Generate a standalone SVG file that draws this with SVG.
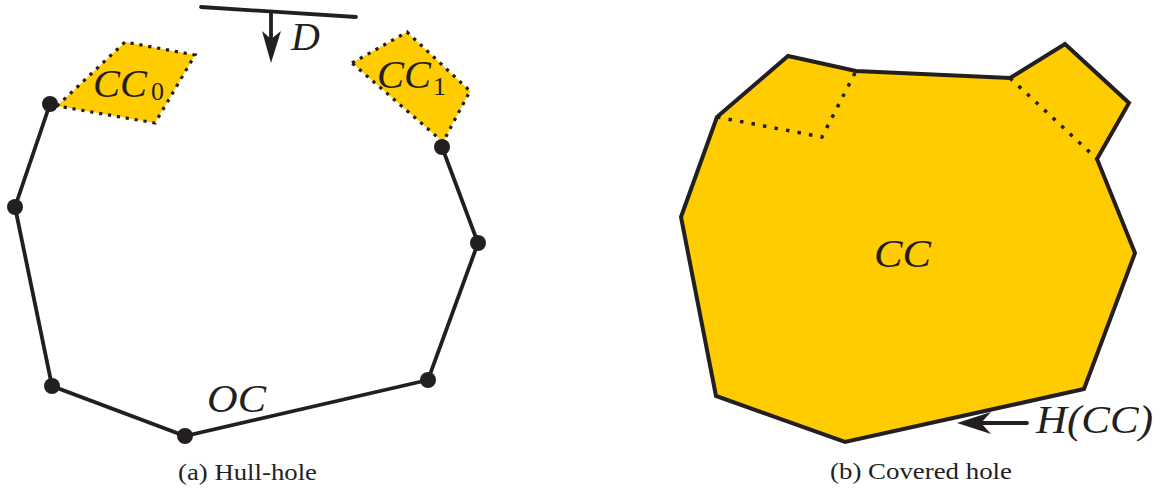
<svg xmlns="http://www.w3.org/2000/svg" width="1167" height="493" viewBox="0 0 1167 493">
<style>
.edge{fill:none;stroke:#231f20;stroke-width:3.8;stroke-linejoin:miter;stroke-linecap:round}
.cc{fill:#ffcc00;stroke:#231f20;stroke-width:3.2;stroke-dasharray:3.2 5.8;stroke-linecap:butt}
.dot{stroke:#231f20;stroke-width:3.5;stroke-dasharray:3.5 8.2;fill:none}
.v{fill:#231f20}
.m{font-family:'Liberation Serif','Times New Roman',Times,serif;font-style:italic;font-size:40px;fill:#231f20}
.sub{font-family:'Liberation Serif','Times New Roman',Times,serif;font-size:26px;fill:#231f20}
.cap{font-family:'Liberation Serif','Times New Roman',Times,serif;font-size:24px;fill:#231f20}
.ah{fill:#231f20}
</style>
<rect width="1167" height="493" fill="#ffffff"/>
<g id="left">
  <g id="CC0">
    <polygon class="cc" points="57,106 125,42 195,55 155,123"/>
    <text class="m" x="93" y="97" textLength="54" lengthAdjust="spacingAndGlyphs">CC</text>
    <text class="sub" x="151" y="100">0</text>
  </g>
  <g id="CC1">
    <polygon class="cc" points="352,63 407,32 470,91 443,142"/>
    <text class="m" x="377" y="88" textLength="54" lengthAdjust="spacingAndGlyphs">CC</text>
    <text class="sub" x="433" y="95">1</text>
  </g>
  <g id="connectors">
    <polyline class="edge" points="442,147 478,243 428,380 185,436 52,386 15,207 50,104"/>
    <line class="edge" x1="201" y1="7" x2="356" y2="17"/>
    <line class="edge" x1="271" y1="12" x2="271" y2="45"/>
    <path class="ah" d="M271,63 L262,31 L271,39 L281,31 Z"/>
  </g>
  <g id="OC">
    <circle class="v" cx="50" cy="104" r="8"/>
    <circle class="v" cx="15" cy="207" r="8"/>
    <circle class="v" cx="52" cy="386" r="8"/>
    <circle class="v" cx="185" cy="436" r="8"/>
    <circle class="v" cx="428" cy="380" r="8"/>
    <circle class="v" cx="478" cy="243" r="8"/>
    <circle class="v" cx="442" cy="147" r="8"/>
    <text class="m" x="207" y="412" textLength="59" lengthAdjust="spacingAndGlyphs">OC</text>
  </g>
  <g id="D">
    <text class="m" x="291" y="50">D</text>
  </g>
  <text class="cap" x="178" y="480" textLength="139" lengthAdjust="spacingAndGlyphs">(a) Hull-hole</text>
</g>
<g id="right">
  <g id="CC">
    <polygon fill="#ffcc00" stroke="#231f20" stroke-width="4" stroke-linejoin="miter" points="717,117 788,56 856,71 1010,78 1065,44 1129,103 1097,159 1135,253 1084,389 845,442 716,396 681,217"/>
    <polyline class="dot" points="717,117 822,137 856,71"/>
    <line class="dot" x1="1010" y1="78" x2="1097" y2="159"/>
    <text class="m" x="874" y="267" textLength="57" lengthAdjust="spacingAndGlyphs">CC</text>
  </g>
  <g id="HCC">
    <line class="edge" x1="975" y1="423" x2="1027" y2="423"/>
    <path class="ah" d="M957,423 L991,412 L981,423 L991,434 Z"/>
    <text class="m" x="1036" y="433" textLength="117" lengthAdjust="spacingAndGlyphs">H(CC)</text>
  </g>
  <text class="cap" x="830" y="479" textLength="182" lengthAdjust="spacingAndGlyphs">(b) Covered hole</text>
</g>
</svg>
